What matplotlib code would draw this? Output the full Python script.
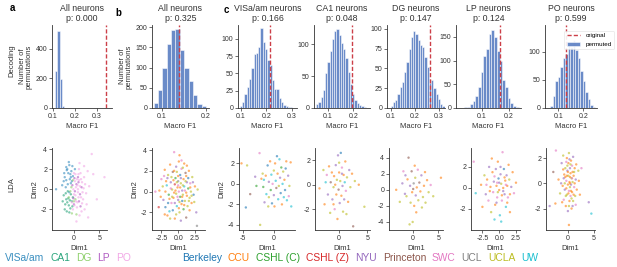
import matplotlib.pyplot as plt
import numpy as np

plt.rcParams['font.family'] = ['Liberation Sans', 'DejaVu Sans']
plt.rcParams['axes.unicode_minus'] = False

# ---- decoding permutation histograms ----
titles = ['All neurons', 'All neurons', 'VISa/am neurons', 'CA1 neurons',
          'DG neurons', 'LP neurons', 'PO neurons']
p_values = [0.000, 0.325, 0.166, 0.048, 0.147, 0.124, 0.599]
original_f1 = [0.342, 0.138, 0.215, 0.195, 0.262, 0.168, 0.131]
bin_start = [0.11, 0.081, 0.095, 0.055, 0.100, 0.035, 0.067]
bin_width = [0.01, 0.01, 0.009, 0.0088, 0.0093, 0.01, 0.01]

counts_a = [250, 522, 197, 11]
counts_b = [12, 45, 100, 158, 192, 194, 144, 100, 67, 33, 11, 4]
counts_visa = [3, 8, 20, 30, 42, 58, 78, 80, 88, 115, 95, 85, 70, 62, 40, 28,
               28, 15, 8, 5, 3, 2, 1]
counts_ca1 = [7, 9, 18, 28, 55, 72, 90, 108, 120, 123, 115, 102, 93, 78, 57,
              38, 22, 12, 8, 5, 3, 2]
counts_dg = [3, 7, 10, 18, 27, 33, 45, 58, 75, 90, 97, 93, 86, 80, 77, 65, 52,
             32, 35, 25, 18, 12, 5, 2]
counts_lp = [3, 3, 8, 15, 25, 45, 75, 110, 125, 155, 165, 150, 120, 100, 60,
             45, 22, 10, 4, 2]
counts_po = [4, 22, 48, 55, 73, 88, 95, 112, 108, 120, 102, 88, 65, 47, 28,
             16, 6, 2]
hist_counts = [counts_a, counts_b, counts_visa, counts_ca1, counts_dg,
               counts_lp, counts_po]

hist_xlim = [(0.095, 0.37), (0.077, 0.208), (0.088, 0.32), (0.047, 0.265),
             (0.085, 0.325), (0.004, 0.244), (0.047, 0.255)]
hist_ylim = [560, 205, 120, 130, 105, 175, 147]
hist_xticks = [[0.1, 0.2, 0.3], [0.1, 0.2], [0.1, 0.2, 0.3], [0.1, 0.2],
               [0.1, 0.2, 0.3], [0.1, 0.2], [0.1, 0.2]]

# ---- LDA scatter ----
regions = ['VISa/am', 'CA1', 'DG', 'LP', 'PO']
region_colors = ['#3a8fc0', '#2aa57c', '#8fd06c', '#b05cc2', '#f2a8e6']
labs = ['Berkeley', 'CCU', 'CSHL (C)', 'CSHL (Z)', 'NYU', 'Princeton', 'SWC',
        'UCL', 'UCLA', 'UW']
lab_colors = ['#1f77b4', '#ff7f0e', '#2ca02c', '#d62728', '#9467bd',
              '#8c564b', '#e377c2', '#7f7f7f', '#bcbd22', '#17becf']

# (Dim1, Dim2, group)
lda_a = [(-1.5, 2.2, 0), (-1.0, 2.7, 0), (-0.5, 1.8, 0), (-1.8, 1.2, 0), (-0.8, 1.0, 0),
         (-1.2, 0.5, 0), (-0.3, 2.3, 0), (-1.6, 0.2, 0), (-0.6, 0.6, 0), (-2.0, 0.8, 0),
         (-1.1, 1.6, 0), (-0.2, 1.3, 0), (-3.5, 0.0, 0), (-0.9, -0.3, 0), (-1.4, 1.9, 0),
         (0.2, 2.0, 0), (-1.3, 2.0, 0), (-0.7, 1.5, 0), (-1.9, 1.6, 0), (-0.4, 0.8, 0),
         (-1.5, 0.9, 0), (-0.9, 2.4, 0), (-2.3, 0.4, 0), (-0.6, 1.2, 0),
         (-1.5, -1.0, 1), (-1.0, -1.6, 1), (-0.6, -0.5, 1), (-1.8, -2.0, 1),
         (-1.2, -0.2, 1), (-0.4, -1.2, 1), (-2.0, -0.6, 1), (-0.9, -2.3, 1), (-1.3, -1.3, 1),
         (-0.2, -0.8, 1), (-1.6, -0.4, 1), (-0.7, -1.9, 1), (-1.1, -0.9, 1), (-1.7, -1.5, 1),
         (-0.8, -1.1, 1), (-1.4, -2.2, 1), (-0.3, -1.7, 1), (-2.2, -1.2, 1),
         (-0.5, 0.2, 2), (-1.0, -0.8, 2), (0.3, -1.0, 2), (-0.2, 0.9, 2), (0.5, -2.5, 2),
         (-0.7, -0.2, 2), (0.0, -1.2, 2), (-0.4, -2.4, 2),
         (0.5, 0.5, 3), (1.2, -0.5, 3), (0.0, -1.5, 3), (0.8, 1.2, 3), (1.5, 0.2, 3),
         (0.2, -0.2, 3), (1.0, -1.2, 3), (-0.3, 0.4, 3), (0.9, 0.7, 3), (0.1, 1.1, 3),
         (1.3, -1.7, 3), (-0.1, -0.9, 3),
         (0.3, 1.5, 4), (0.8, 0.0, 4), (1.4, 1.0, 4), (0.0, -0.5, 4),
         (1.8, -1.0, 4), (0.6, -1.8, 4), (2.2, 0.5, 4), (1.0, 2.0, 4), (0.2, 0.8, 4),
         (1.5, -2.2, 4), (2.5, -1.5, 4), (0.9, -0.8, 4), (-0.2, -2.0, 4), (1.3, 1.6, 4),
         (2.0, 1.2, 4), (0.4, -1.2, 4), (1.7, -0.3, 4), (3.0, 0.3, 4), (4.5, -1.0, 4),
         (6.0, 1.2, 4), (3.5, 3.5, 4), (2.8, -2.8, 4), (0.7, 0.4, 4), (1.1, 2.6, 4),
         (-0.1, 0.0, 4), (0.5, -3.2, 4), (0.6, 1.0, 4), (1.2, 0.3, 4), (0.3, -0.6, 4),
         (1.6, -1.4, 4), (0.9, 1.5, 4), (2.4, -0.4, 4), (0.1, -1.6, 4), (1.9, 0.1, 4),
         (0.7, -1.3, 4), (1.4, -0.8, 4), (0.4, 0.2, 4), (2.7, 1.8, 4), (1.1, -2.6, 4),
         (0.0, 1.6, 4), (2.1, -2.0, 4), (1.6, 0.7, 4), (0.8, -0.3, 4), (-0.4, -1.3, 4),
         (1.0, 0.9, 4), (3.8, 1.5, 4), (2.0, 2.3, 4)]
lda_b = [(-2.8, 0.1, 1), (-2.5, 1.2, 6), (-2.2, -0.8, 4), (-2.0, 2.1, 1), (-1.9, -1.5, 0),
         (-1.7, 0.6, 9), (-1.6, -2.3, 1), (-1.5, 1.6, 8), (-1.4, -0.3, 2), (-1.2, 2.6, 1),
         (-1.1, 0.9, 4), (-1.0, -1.1, 6), (-0.9, 0.2, 8), (-0.8, 1.9, 5), (-0.8, -1.8, 0),
         (-0.7, -0.6, 1), (-0.6, 3.8, 6), (-0.5, 0.7, 3), (-0.5, -2.6, 1), (-0.4, 1.3, 2),
         (-0.3, -0.2, 8), (-0.3, 2.4, 4), (-0.2, -1.4, 9), (-0.1, 0.4, 1), (0.0, 1.0, 7),
         (0.0, -0.8, 4), (0.1, 2.9, 1), (0.1, 0.0, 6), (0.2, -2.0, 8), (0.3, 1.6, 0),
         (0.3, -0.5, 2), (0.4, 0.8, 8), (0.5, -1.2, 1), (0.5, 2.2, 6), (0.6, 0.1, 4),
         (0.7, -0.3, 8), (0.8, 1.2, 1), (0.8, -1.7, 2), (0.9, 0.5, 9), (1.0, -0.9, 8),
         (1.1, 1.8, 5), (1.2, -0.1, 1), (1.3, 0.9, 4), (1.4, -1.4, 8), (1.5, 0.3, 2),
         (1.6, 2.0, 1), (1.7, -0.6, 8), (1.8, 0.8, 6), (2.0, -1.1, 1), (2.1, 1.4, 8),
         (2.3, -0.3, 0), (2.5, 0.5, 1), (2.7, -2.0, 4), (2.9, 0.2, 8), (-2.9, -1.5, 3),
         (-3.4, 0.0, 6), (-2.0, -2.2, 1), (0.2, 3.5, 1), (1.2, -2.5, 5), (2.8, -3.3, 7),
         (-1.3, -1.9, 9), (0.9, 2.7, 1), (-0.2, 1.9, 8), (0.6, -0.9, 0), (-0.6, -0.1, 1),
         (1.9, 0.0, 8), (0.0, 0.6, 6), (-1.8, 1.0, 1), (0.4, -2.8, 4),
         (-2.3, 0.5, 8), (-1.9, 0.0, 1), (-1.6, 1.3, 4), (-1.3, -0.7, 1), (-1.1, 0.3, 6),
         (-0.9, -0.5, 8), (-0.7, 1.1, 1), (-0.5, -1.1, 4), (-0.4, 0.1, 1), (-0.2, 0.9, 8),
         (-0.1, -0.5, 6), (0.0, 1.5, 1), (0.2, -1.0, 8), (0.3, 0.4, 1), (0.4, 1.3, 4),
         (0.6, -0.5, 1), (0.7, 0.6, 8), (0.9, -1.3, 1), (1.0, 0.1, 6), (1.1, 1.0, 8),
         (1.3, -0.4, 1), (1.5, 1.3, 0), (1.6, -0.9, 8), (1.8, 0.4, 1), (2.0, -0.4, 8),
         (2.2, 0.9, 4), (-2.6, -0.5, 1), (-1.5, -1.1, 0), (-0.6, 2.0, 1), (0.7, 2.3, 8),
         (1.2, 1.5, 1), (-1.0, 1.4, 8), (0.1, -1.6, 1), (-0.3, -2.2, 8), (1.7, -1.8, 1),
         (2.4, -1.0, 8), (-2.1, 1.5, 6), (0.5, 3.0, 6), (1.3, 2.5, 1), (-1.2, -2.6, 8)]
lda_visa = [(-5.2, 2.0, 1), (-4.3, 1.8, 8), (-4.5, -2.3, 0), (-3.8, -1.0, 5), (-2.3, 3.0, 6),
            (-2.2, -4.0, 8), (-2.0, 0.5, 1), (-1.8, 1.0, 8), (-1.7, -0.3, 2), (-1.5, -1.8, 4),
            (-1.3, 0.8, 1), (-1.2, -1.0, 9), (-1.0, 1.8, 0), (-0.8, 0.2, 4), (-0.8, -1.3, 8),
            (-0.6, 2.2, 1), (-0.5, -0.6, 2), (-0.4, 0.9, 9), (-0.3, -1.9, 0), (-0.2, 0.0, 6),
            (0.0, 1.3, 8), (0.0, -1.1, 4), (0.2, 2.0, 1), (0.3, 0.3, 9), (0.4, -0.4, 5),
            (0.5, 2.7, 0), (0.6, 1.0, 1), (0.7, -1.5, 9), (0.8, -0.2, 8), (0.9, 2.4, 9),
            (1.0, 0.6, 4), (1.1, -0.9, 0), (1.2, 1.6, 2), (1.3, -2.0, 1), (1.4, 0.0, 9),
            (1.5, 1.2, 8), (1.6, -1.3, 9), (1.7, 0.4, 1), (1.8, -0.6, 0), (2.0, 2.2, 1),
            (2.1, -1.6, 9), (2.3, 0.8, 4), (2.5, -0.2, 8), (2.7, 2.1, 1), (2.8, -2.2, 9),
            (-2.8, -0.2, 2), (-3.0, 0.7, 4), (-0.9, -2.2, 8), (1.9, 1.5, 0), (-1.6, 0.4, 9),
            (0.1, -2.2, 1), (2.4, -1.2, 6)]
lda_ca1 = [(-3.5, -0.3, 1), (-2.8, 1.2, 8), (-2.6, -1.6, 1), (-2.2, 0.8, 6), (-2.0, -0.8, 4),
           (-1.8, 1.5, 1), (-1.6, -2.3, 8), (-1.5, 0.2, 5), (-1.3, 1.0, 1), (-1.2, -1.2, 4),
           (-1.0, -0.2, 8), (-0.9, 0.7, 1), (-0.8, -2.0, 6), (-0.6, 1.6, 4), (-0.5, -0.8, 1),
           (-0.4, 0.4, 8), (-0.3, -2.8, 1), (-0.2, 2.4, 4), (-0.1, -0.4, 5), (0.0, 1.0, 1),
           (0.1, -1.5, 4), (0.2, 0.3, 8), (0.3, 2.6, 0), (0.4, -0.9, 1), (0.5, 1.4, 6),
           (0.6, -0.1, 4), (0.7, -2.2, 8), (0.8, 0.8, 1), (0.9, -1.2, 4), (1.0, 0.2, 9),
           (1.1, 1.9, 1), (1.2, -0.5, 6), (1.4, 0.6, 8), (1.6, -1.4, 1), (1.8, 1.2, 4),
           (2.0, -0.2, 8), (2.3, 0.9, 1), (2.5, -3.4, 5), (2.8, 0.3, 8), (3.5, 0.0, 1),
           (4.5, -1.8, 8), (-2.4, 0.2, 9), (0.0, 1.8, 8), (-0.7, 0.0, 1), (1.3, -2.4, 8),
           (0.5, 0.9, 4), (-1.0, -1.6, 1)]
lda_dg = [(-3.2, 0.0, 1), (-1.8, 2.3, 6), (-1.5, -0.5, 4), (-1.2, -0.8, 8), (-1.0, 1.3, 1),
          (-0.8, 4.0, 5), (-0.5, 0.5, 4), (-0.4, -1.6, 8), (-0.2, 2.3, 5), (-0.1, -0.3, 1),
          (0.0, -4.0, 8), (0.2, 0.8, 7), (0.3, -2.0, 1), (0.5, 1.5, 8), (0.6, -0.7, 4),
          (0.8, 0.3, 1), (1.0, 2.5, 6), (1.1, -1.3, 8), (1.3, 0.9, 5), (1.5, -0.2, 1),
          (1.7, 1.8, 4), (2.0, -0.9, 8), (2.2, 0.5, 1), (2.5, -1.6, 8), (2.8, 1.2, 1),
          (3.1, -0.3, 8), (3.5, 0.6, 6), (4.0, -0.8, 8), (5.5, 1.5, 1), (-2.5, -1.5, 8),
          (-2.0, 0.8, 4), (0.7, -2.8, 1), (1.8, -2.2, 8), (-0.6, -4.3, 8), (0.4, 3.0, 1),
          (-1.4, 1.8, 4), (2.4, 2.2, 1), (0.1, 0.1, 5)]
lda_lp = [(-3.8, 2.5, 6), (-3.5, -0.5, 9), (-2.7, 0.3, 1), (-2.5, -1.8, 1), (-2.2, 1.2, 8),
          (-2.0, -0.6, 4), (-1.8, 0.8, 1), (-1.6, -1.2, 6), (-1.5, 2.0, 4), (-1.3, 0.1, 1),
          (-1.2, -2.3, 8), (-1.0, 1.5, 1), (-0.9, -0.4, 6), (-0.8, 0.6, 4), (-0.6, -1.6, 1),
          (-0.5, 1.8, 4), (-0.4, 0.2, 1), (-0.3, -0.9, 6), (-0.2, 2.5, 1), (-0.1, 0.9, 0),
          (0.0, -0.2, 1), (0.1, -2.6, 9), (0.2, 1.3, 4), (0.3, 0.4, 8), (0.4, -1.2, 6),
          (0.5, 3.4, 6), (0.6, 0.0, 1), (0.7, 1.8, 0), (0.8, -0.6, 4), (0.9, 0.7, 1),
          (1.0, -1.8, 9), (1.1, 1.2, 4), (1.2, 0.2, 1), (1.3, -0.9, 6), (1.5, 0.8, 8),
          (1.6, -2.3, 1), (1.8, 0.1, 4), (2.0, 1.5, 1), (2.2, -0.5, 6), (2.5, 0.5, 1),
          (-0.7, -3.0, 9), (0.3, -3.2, 9), (-1.1, 2.8, 1), (1.4, 2.2, 1), (-0.3, 0.5, 6),
          (0.6, -0.3, 4), (-1.4, -0.3, 1), (-0.7, 1.1, 6), (0.0, 0.5, 4), (0.4, -0.7, 1),
          (1.0, 0.3, 6), (-0.4, -1.4, 4), (0.8, 1.0, 1), (-1.9, 0.3, 6), (1.6, -0.6, 1),
          (0.2, 2.0, 4), (-0.2, -0.4, 8), (1.2, -1.4, 1)]
lda_po = [(-2.8, 0.9, 5), (-3.5, -1.8, 4), (-2.4, -1.6, 1), (-2.3, 2.6, 6), (-1.8, 0.3, 1),
          (-1.5, -0.8, 8), (-1.2, 1.6, 4), (-1.0, -0.2, 1), (-0.9, 2.2, 8), (-0.8, -1.3, 6),
          (-0.7, 0.7, 1), (-0.6, -0.5, 4), (-0.5, 1.2, 8), (-0.4, -1.8, 1), (-0.3, 0.2, 6),
          (-0.2, 2.0, 1), (-0.2, -0.9, 8), (-0.1, 1.0, 4), (0.0, -0.1, 1), (0.0, -2.2, 4),
          (0.1, 0.6, 8), (0.1, 1.6, 1), (0.2, -0.6, 6), (0.2, 2.4, 8), (0.3, 0.1, 1),
          (0.3, -1.4, 1), (0.4, 1.2, 4), (0.4, -0.3, 8), (0.5, 0.8, 1), (0.5, -1.0, 6),
          (0.6, 1.8, 1), (0.6, -0.1, 4), (0.7, 0.4, 8), (0.7, -2.0, 1), (0.8, 1.4, 6),
          (0.8, -0.7, 1), (0.9, 0.1, 8), (1.0, 2.1, 4), (1.0, -1.4, 8), (1.1, 0.6, 1),
          (1.2, -0.3, 6), (1.3, 1.2, 1), (1.4, -1.0, 8), (1.5, 0.3, 4), (1.7, -0.5, 1),
          (2.0, 1.0, 8), (2.3, -0.9, 1), (2.6, 1.2, 6), (4.0, -1.5, 4), (4.5, -2.4, 9),
          (0.2, -3.3, 1), (-0.5, 0.5, 1), (0.4, 0.0, 1), (-0.1, 1.4, 8), (0.9, 0.9, 1),
          (-0.3, -0.4, 1), (-0.6, 0.0, 8), (-0.2, 0.6, 1), (0.3, 1.9, 4), (0.6, -0.6, 1),
          (0.8, 0.4, 6), (1.1, -0.9, 1), (-0.4, -1.0, 8), (0.0, 0.9, 1), (0.5, 1.5, 8),
          (1.3, 0.0, 1), (-0.8, 0.4, 4), (0.2, -1.8, 8), (1.6, 1.5, 1), (-1.1, -1.5, 1),
          (0.9, -1.8, 4), (0.4, 0.5, 1), (-0.3, 1.7, 6), (1.2, 0.9, 8), (-0.9, 1.1, 1),
          (0.7, -1.2, 8), (2.1, 0.2, 1), (-1.3, 0.0, 4), (0.1, -0.8, 1), (1.5, -1.7, 6)]
lda_points = [lda_a, lda_b, lda_visa, lda_ca1, lda_dg, lda_lp, lda_po]

lda_xlim = [(-4.3, 6.5), (-3.9, 4.0), (-5.6, 3.4), (-4.3, 5.5), (-4.6, 5.9),
            (-4.2, 3.1), (-4.2, 5.2)]
lda_ylim = [(-4.05, 4.1), (-3.7, 4.2), (-4.5, 3.5), (-3.7, 3.0), (-5.0, 5.2),
            (-4.0, 3.8), (-3.7, 2.8)]
lda_xticks = [[0, 5], [-2.5, 0.0, 2.5], [-5, 0], [0, 5], [0, 5],
              [-2.5, 0.0, 2.5], [0, 5]]
lda_yticks = [[-2, 0, 2, 4], [-2, 0, 2, 4], [-4, -2, 0, 2], [-2, 0, 2],
              [-4, -2, 0, 2, 4], [-2, 0, 2], [-2, 0, 2]]

# axes boxes in pixels: left, right
W, H = 617, 267
hist_boxes = [(52, 112), (152, 209), (238, 297), (314, 370), (387, 445),
              (456, 521), (545, 597)]
lda_boxes = [(52, 107), (152, 205), (239, 295), (315, 370), (389, 443),
             (471, 520), (546, 595)]

hist_color = '#5a7ec2'
red = '#cc3f48'
ink = '#333333'

fig = plt.figure(figsize=(W / 100, H / 100), dpi=100)


def add_ax(l, r, t, b):
    return fig.add_axes([l / W, 1 - b / H, (r - l) / W, (b - t) / H])


def style(ax):
    for s in ['top', 'right']:
        ax.spines[s].set_visible(False)
    for s in ['left', 'bottom']:
        ax.spines[s].set_linewidth(0.6)
        ax.spines[s].set_color(ink)
    ax.tick_params(labelsize=5, length=2, width=0.5, pad=1.5,
                   colors=ink, labelcolor=ink)


for i in range(7):
    l, r = hist_boxes[i]
    ax = add_ax(l, r, 25, 108)
    style(ax)
    cnt = hist_counts[i]
    lefts = [bin_start[i] + k * bin_width[i] for k in range(len(cnt))]
    ax.axvline(original_f1[i], color=red, lw=1.0, ls=(0, (3, 1.5)),
               label='original', zorder=3)
    ax.bar(lefts, cnt, width=bin_width[i], align='edge', color=hist_color,
           alpha=0.9, edgecolor='white', linewidth=0.4, label='permuted')
    ax.set_xlim(hist_xlim[i])
    ax.set_ylim(0, hist_ylim[i])
    ax.set_xticks(hist_xticks[i])
    ax.set_title(f'{titles[i]}\np: {p_values[i]:.3f}', fontsize=6.3,
                 pad=3, linespacing=1.15, color=ink)
    ax.set_xlabel('Macro F1', fontsize=5.5, labelpad=2, color=ink)
    if i < 2:
        ax.set_ylabel('Number of\npermutations', fontsize=5.5, labelpad=2,
                      color=ink, linespacing=1.0)
    if i == 6:
        leg = ax.legend(loc='upper right', bbox_to_anchor=(1.39, 0.97),
                        fontsize=4.5, frameon=True, framealpha=0.9,
                        edgecolor='#dddddd', handlelength=2.2, borderpad=0.4,
                        labelspacing=0.5)
        leg.get_frame().set_linewidth(0.4)

for i in range(7):
    l, r = lda_boxes[i]
    ax = add_ax(l, r, 148, 230)
    style(ax)
    pts = lda_points[i]
    xs = [p[0] for p in pts]
    ys = [p[1] for p in pts]
    pal = region_colors if i == 0 else lab_colors
    cs = [pal[p[2]] for p in pts]
    ax.scatter(xs, ys, c=cs, s=3.0, alpha=0.6, linewidths=0)
    ax.set_xlim(lda_xlim[i])
    ax.set_ylim(lda_ylim[i])
    ax.set_xticks(lda_xticks[i])
    ax.set_yticks(lda_yticks[i])
    ax.set_xlabel('Dim1', fontsize=5.5, labelpad=2, color=ink)
    if i < 3:
        ax.set_ylabel('Dim2', fontsize=5.5, labelpad=2, color=ink)

# panel letters and row labels
fig.text(12 / W, 1 - 8 / H, 'a', fontsize=7, fontweight='bold', ha='center', va='center')
fig.text(118 / W, 1 - 13 / H, 'b', fontsize=7, fontweight='bold', ha='center', va='center')
fig.text(226 / W, 1 - 10 / H, 'c', fontsize=7, fontweight='bold', ha='center', va='center')
fig.text(12 / W, 1 - 61 / H, 'Decoding', fontsize=5.5, rotation=90,
         ha='center', va='center', color=ink)
fig.text(12 / W, 1 - 185 / H, 'LDA', fontsize=5.5, rotation=90,
         ha='center', va='center', color=ink)


# colored-text legends
def text_legend(names, colors, x0):
    hs = [plt.Line2D([], [], linestyle='none') for _ in names]
    leg = fig.legend(hs, names, loc='center left', bbox_to_anchor=(x0 / W, 1 - 258 / H),
                     ncol=len(names), frameon=False, handlelength=0,
                     handletextpad=0, columnspacing=0.58, fontsize=7.4,
                     borderpad=0, borderaxespad=0)
    for t, c in zip(leg.get_texts(), colors):
        t.set_color(c)


text_legend(regions, region_colors, 5)
text_legend(labs, lab_colors, 182)

fig.savefig('out.png', dpi=100)
